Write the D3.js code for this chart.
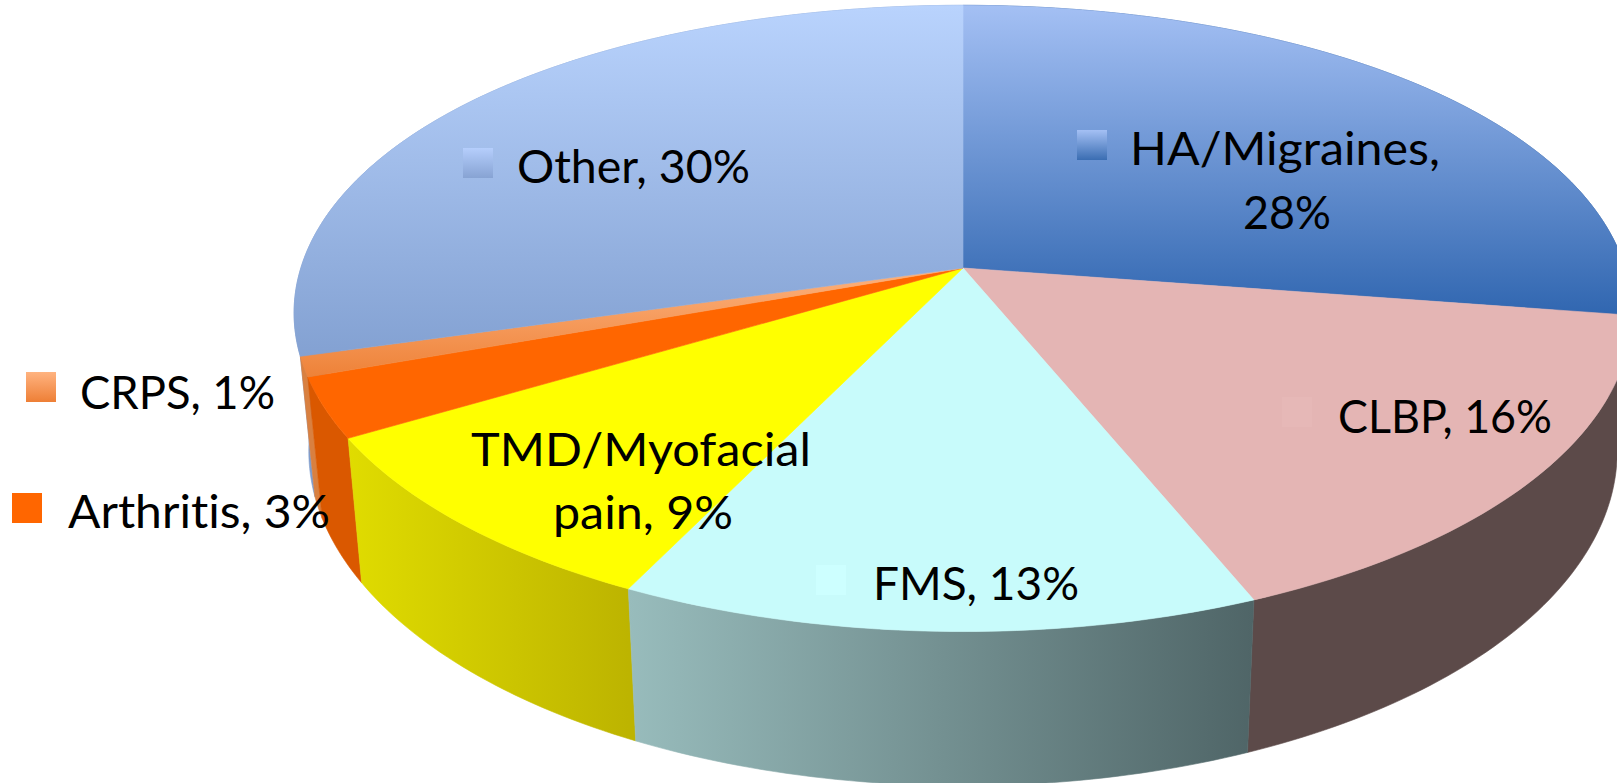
<!DOCTYPE html>
<html>
<head>
<meta charset="utf-8">
<script src="https://cdn.jsdelivr.net/npm/d3@7"></script>
<style>
  html, body { margin: 0; padding: 0; background: #fff; overflow: hidden; }
  text { font-family: Lato, "Open Sans", sans-serif; fill: #000; font-variant-ligatures: none; }
</style>
</head>
<body>
<script>
// clockwise from 12 o'clock, as in the picture
const categories = ["HA/Migraines", "CLBP", "FMS", "TMD/Myofacial pain", "Arthritis", "CRPS", "Other"];
const shares = [28, 16, 13, 9, 3, 1, 30];

const faceTop = ["#a4c0f4", "#e4b5b4", "#c8fbfb", "#ffff00", "#ff6600", "#fdb27e", "#b9d3fd"];
const faceBottom = ["#3066b0", "#e4b5b4", "#c8fbfb", "#ffff00", "#ff6600", "#ee8238", "#83a1d2"];
const wallLeft = ["#2c5c9e", "#5c4a49", "#98bcbc", "#e0dc00", "#da5800", "#d98040", "#7f9ccc"];
const wallRight = ["#2c5c9e", "#5c4a49", "#4f6567", "#bdb400", "#da5800", "#d98040", "#7f9ccc"];
const keyTop = ["#a4c0f4", "#e6b8b7", "#cdffff", "#ffff00", "#ff6600", "#ffb380", "#b5cefc"];
const keyBottom = ["#3a6db2", "#e6b8b7", "#cdffff", "#ffff00", "#ff6600", "#ee7f36", "#87a3d3"];

const width = 1617, height = 783;
const cx = 963, cy = 268;          // apex of the slices
const rx = 658, ry = 305;          // radii before perspective
const kx = 0.18, ky = 0.161;       // perspective strength
const sag = 12;                    // sides of the disc sit a bit higher
const wallY = 404, wallSy = 1.05, wallSx = 0.978;  // lower rim of the cylinder

// x, y of the colour key, then lines of text: string, start x, baseline, width
const labels = [
  { key: [1077, 130], lines: [["HA/Migraines,", 1130, 165, 310], ["28%", 1243, 229, 88]] },
  { key: [1282, 397], lines: [["CLBP, 16%", 1338, 433, 214]] },
  { key: [816, 565], lines: [["FMS, 13%", 873, 600, 206]] },
  { key: [423, 431], lines: [["TMD/Myofacial", 471, 466, 340], ["pain, 9%", 553, 529, 180]] },
  { key: [12, 493], lines: [["Arthritis, 3%", 68, 528, 262]] },
  { key: [26, 372], lines: [["CRPS, 1%", 80, 409, 195]] },
  { key: [463, 148], lines: [["Other, 30%", 517, 183, 233]] }
];

function topRim(a) {
  const X = Math.sin(a), Y = Math.cos(a);
  return [
    cx + rx * X / (1 + kx * Y),
    cy - ry * Y / (1 + ky * Y) - sag * X * X
  ];
}

function bottomRim(a) {
  const p = topRim(a);
  return [cx + wallSx * (p[0] - cx), wallY + wallSy * (p[1] - cy)];
}

function sampleAngles(d) {
  const n = Math.max(4, Math.ceil((d.endAngle - d.startAngle) * 60));
  return d3.range(n + 1).map(i => d.startAngle + (d.endAngle - d.startAngle) * i / n);
}

const pie = d3.pie().sort(null).value(d => d);
const slices = pie(shares);
const line = d3.line();

const svg = d3.select("body").append("svg")
    .attr("width", width)
    .attr("height", height)
    .style("display", "block");

const defs = svg.append("defs");

function gradient(id, horizontal, from, to, c0, c1) {
  const g = defs.append("linearGradient")
      .attr("id", id)
      .attr("gradientUnits", "userSpaceOnUse")
      .attr("x1", horizontal ? from : 0)
      .attr("x2", horizontal ? to : 0)
      .attr("y1", horizontal ? 0 : from)
      .attr("y2", horizontal ? 0 : to);
  g.append("stop").attr("offset", 0).attr("stop-color", c0);
  g.append("stop").attr("offset", 1).attr("stop-color", c1);
}

// painter's order for the walls: back ones first, FMS in front
const wallOrder = [6, 5, 4, 0, 1, 3, 2];

wallOrder.forEach(function(i) {
  const d = slices[i];
  const angles = sampleAngles(d);
  const upper = angles.map(topRim);
  const lower = angles.map(bottomRim).reverse();
  const all = upper.concat(lower);
  gradient("wall" + i, true, d3.min(upper, p => p[0]), d3.max(upper, p => p[0]), wallLeft[i], wallRight[i]);
  svg.append("path")
      .attr("class", "wall")
      .attr("d", line(all) + "Z")
      .attr("fill", "url(#wall" + i + ")")
      .attr("stroke", "url(#wall" + i + ")")
      .attr("stroke-width", 0.6);
});

slices.forEach(function(d, i) {
  const rim = sampleAngles(d).map(topRim);
  const outline = [[cx, cy]].concat(rim);
  gradient("face" + i, false, d3.min(outline, p => p[1]), d3.max(outline, p => p[1]), faceTop[i], faceBottom[i]);
  svg.append("path")
      .attr("class", "slice")
      .attr("d", line(outline) + "Z")
      .attr("fill", "url(#face" + i + ")")
      .attr("stroke", "url(#face" + i + ")")
      .attr("stroke-width", 0.6);
});

labels.forEach(function(l, i) {
  const g = svg.append("g").attr("class", "label");
  gradient("key" + i, false, l.key[1], l.key[1] + 30, keyTop[i], keyBottom[i]);
  g.append("rect")
      .attr("x", l.key[0])
      .attr("y", l.key[1])
      .attr("width", 30)
      .attr("height", 30)
      .attr("fill", "url(#key" + i + ")");
  l.lines.forEach(function(t) {
    g.append("text")
        .attr("x", t[1])
        .attr("y", t[2])
        .attr("font-size", 47)
        .attr("textLength", t[3])
        .attr("lengthAdjust", "spacingAndGlyphs")
        .text(t[0]);
  });
});
</script>
</body>
</html>
